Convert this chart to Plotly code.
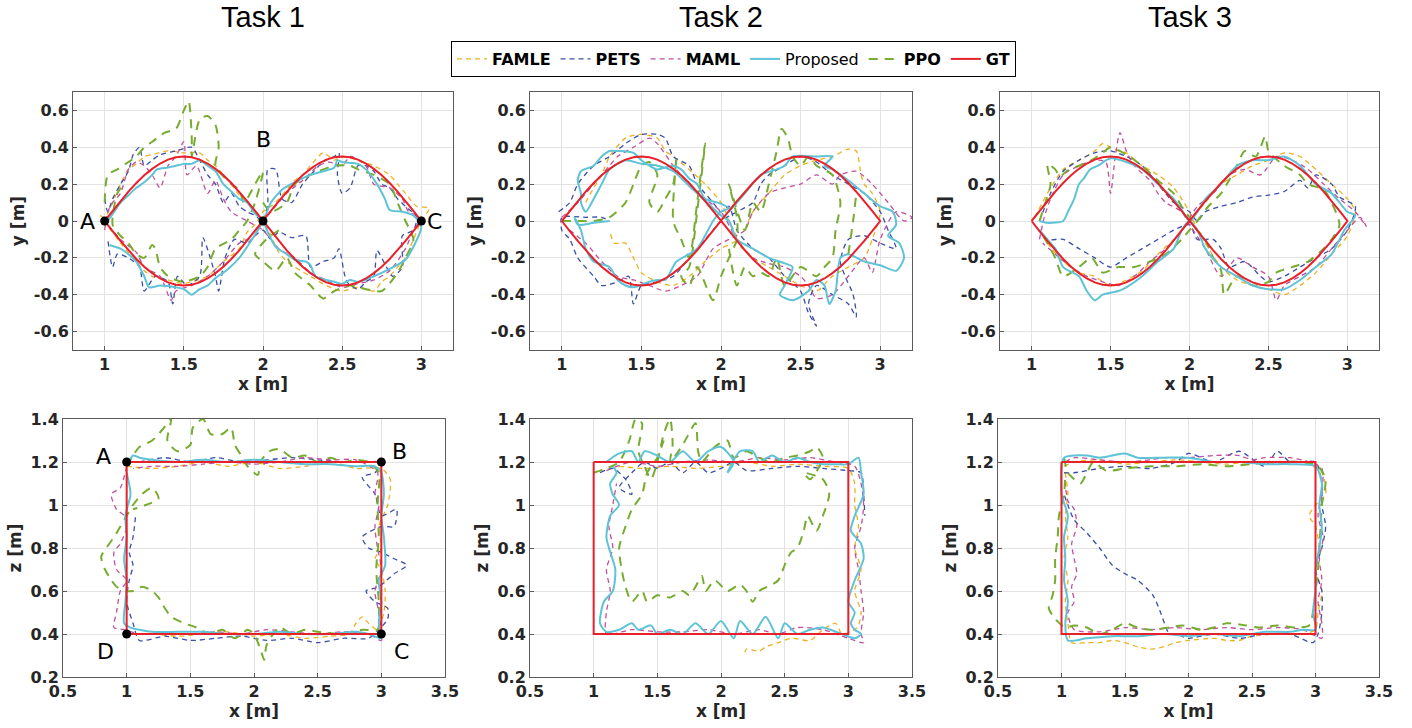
import plotly.graph_objects as go

# ---------------- ground truth ----------------
GT8_X = [1.00, 1.05, 1.10, 1.15, 1.20, 1.25, 1.30, 1.35, 1.40, 1.45, 1.50, 1.55, 1.60, 1.65, 1.70,
         1.75, 1.80, 1.85, 1.90, 1.95, 2.00, 2.05, 2.10, 2.15, 2.20, 2.25, 2.30, 2.35, 2.40, 2.45,
         2.50, 2.55, 2.60, 2.65, 2.70, 2.75, 2.80, 2.85, 2.90, 2.95, 3.00]
GT8_UP_Y = [0, 0.055, 0.108, 0.159, 0.206, 0.248, 0.283, 0.312, 0.333, 0.346, 0.35, 0.346, 0.333,
            0.312, 0.283, 0.248, 0.206, 0.159, 0.108, 0.055, 0, -0.055, -0.108, -0.159, -0.206,
            -0.248, -0.283, -0.312, -0.333, -0.346, -0.35, -0.346, -0.333, -0.312, -0.283, -0.248,
            -0.206, -0.159, -0.108, -0.055, 0]
GT8_DN_Y = [0, -0.055, -0.108, -0.159, -0.206, -0.248, -0.283, -0.312, -0.333, -0.346, -0.35,
            -0.346, -0.333, -0.312, -0.283, -0.248, -0.206, -0.159, -0.108, -0.055, 0, 0.055,
            0.108, 0.159, 0.206, 0.248, 0.283, 0.312, 0.333, 0.346, 0.35, 0.346, 0.333, 0.312,
            0.283, 0.248, 0.206, 0.159, 0.108, 0.055, 0]
GT_RECT_X = [1, 3, 3, 1, 1]
GT_RECT_Z = [1.2, 1.2, 0.4, 0.4, 1.2]

N = (None, None)  # gap marker (pen lifted)

# ---------------- Task 1, x-y ----------------
T1_TOP_FAMLE = [(0.97,0.03),(1.0,0.02),(1.05,0.1),(1.1,0.2),(1.15,0.28),(1.2,0.31),(1.25,0.35),(1.3,0.36),(1.4,0.38),(1.5,0.37),(1.6,0.37),(1.65,0.33),(1.7,0.3),(1.75,0.25),(1.8,0.2),(1.85,0.14),(1.9,0.1),(1.95,0.05),(2.0,0.02),(2.05,-0.08),(2.1,-0.17),(2.15,-0.22),(2.2,-0.25),(2.3,-0.3),(2.4,-0.35),(2.5,-0.38),(2.6,-0.36),(2.7,-0.38),(2.75,-0.33),(2.8,-0.3),(2.85,-0.25),(2.9,-0.2),(2.95,-0.1),(3.0,0.0),(3.05,0.07),(2.97,0.08),(2.9,0.15),(2.85,0.2),(2.8,0.25),(2.7,0.3),(2.6,0.33),(2.5,0.35),(2.45,0.33),(2.38,0.37),(2.3,0.3),(2.25,0.25),(2.2,0.22),(2.1,0.12),(2.05,0.08),(2.0,0.05),(1.95,-0.02),(1.9,-0.06),(1.85,-0.15),(1.75,-0.22),(1.65,-0.3),(1.55,-0.33),(1.5,-0.34),(1.4,-0.32),(1.3,-0.3),(1.25,-0.27),(1.2,-0.22),(1.1,-0.12),(1.05,-0.06),(1.0,-0.02)]
T1_TOP_PETS = [(1.0,0.12),(1.02,0.05),(1.05,0.12),(1.1,0.2),(1.15,0.27),(1.18,0.36),(1.22,0.4),(1.25,0.3),(1.3,0.33),(1.35,0.36),(1.45,0.38),(1.55,0.4),(1.6,0.33),(1.65,0.25),(1.7,0.2),(1.75,0.1),(1.8,0.15),(1.85,0.08),(1.9,0.05),(1.95,0.03),(2.0,0.0),(2.03,0.1),(2.03,0.28),(2.08,0.28),(2.12,0.12),(2.18,0.1),(2.25,0.2),(2.3,0.25),(2.38,0.32),(2.45,0.35),(2.48,0.37),(2.47,0.25),(2.5,0.15),(2.55,0.18),(2.6,0.3),(2.65,0.3),(2.7,0.27),(2.75,0.2),(2.8,0.18),(2.85,0.12),(2.9,0.08),(2.97,0.02),(2.95,-0.05),(2.88,-0.08),(2.88,-0.25),(2.82,-0.3),(2.78,-0.25),(2.72,-0.16),(2.7,-0.3),(2.65,-0.33),(2.6,-0.37),(2.53,-0.33),(2.48,-0.15),(2.45,-0.2),(2.38,-0.22),(2.3,-0.25),(2.27,-0.08),(2.18,-0.09),(2.1,-0.06),(2.05,-0.1),(2.0,-0.05),(1.95,-0.08),(1.9,-0.12),(1.82,-0.1),(1.76,-0.2),(1.72,-0.38),(1.7,-0.3),(1.66,-0.18),(1.62,-0.09),(1.6,-0.3),(1.52,-0.35),(1.46,-0.3),(1.43,-0.45),(1.4,-0.33),(1.32,-0.3),(1.25,-0.38),(1.22,-0.25),(1.15,-0.2),(1.08,-0.18),(1.05,-0.25),(1.02,-0.1)]
T1_TOP_MAML = [(1.0,-0.05),(1.02,0.05),(1.05,0.1),(1.1,0.15),(1.15,0.28),(1.2,0.32),(1.25,0.3),(1.3,0.25),(1.35,0.18),(1.4,0.3),(1.45,0.35),(1.5,0.43),(1.52,0.25),(1.58,0.3),(1.65,0.15),(1.7,0.22),(1.75,0.12),(1.8,0.05),(1.9,0.0),(2.0,-0.05),(2.05,-0.1),(2.1,-0.15),(2.2,-0.2),(2.3,-0.28),(2.4,-0.32),(2.5,-0.36),(2.6,-0.34),(2.7,-0.32),(2.8,-0.27),(2.9,-0.15),(2.95,-0.05),(3.0,0.02),(2.92,0.05),(2.88,0.12),(2.8,0.18),(2.7,0.2),(2.65,0.3),(2.55,0.35),(2.5,0.3),(2.42,0.32),(2.35,0.3),(2.25,0.22),(2.15,0.15),(2.05,0.05),(1.98,-0.02),(1.95,-0.08),(1.85,-0.12),(1.75,-0.22),(1.65,-0.3),(1.55,-0.35),(1.45,-0.38),(1.42,-0.43),(1.35,-0.3),(1.25,-0.25),(1.2,-0.17),(1.1,-0.1),(1.02,-0.02)]
T1_TOP_PROP = [(1.02,0.0),(1.06,0.05),(1.1,0.1),(1.15,0.14),(1.2,0.18),(1.25,0.21),(1.3,0.25),(1.33,0.28),(1.4,0.29),(1.45,0.3),(1.5,0.31),(1.55,0.31),(1.6,0.33),(1.65,0.3),(1.7,0.27),(1.75,0.2),(1.8,0.16),(1.85,0.12),(1.9,0.1),(1.95,0.04),(2.0,0.0),(2.03,-0.06),(2.08,-0.14),(2.15,-0.18),(2.2,-0.21),(2.27,-0.22),(2.3,-0.24),(2.33,-0.3),(2.4,-0.32),(2.45,-0.33),(2.5,-0.34),(2.55,-0.32),(2.6,-0.33),(2.7,-0.3),(2.8,-0.26),(2.9,-0.21),(2.95,-0.14),(3.0,-0.03),(2.95,0.03),(2.88,0.05),(2.8,0.06),(2.77,0.12),(2.72,0.2),(2.65,0.28),(2.6,0.31),(2.5,0.32),(2.47,0.33),(2.45,0.29),(2.38,0.27),(2.3,0.25),(2.2,0.21),(2.12,0.17),(2.05,0.1),(2.02,0.04),(2.0,0.0),(1.96,-0.06),(1.9,-0.14),(1.85,-0.2),(1.78,-0.26),(1.7,-0.31),(1.65,-0.35),(1.6,-0.37),(1.55,-0.4),(1.5,-0.37),(1.45,-0.36),(1.35,-0.35),(1.28,-0.36),(1.25,-0.3),(1.2,-0.22),(1.15,-0.18),(1.1,-0.15),(1.03,-0.13)]
T1_TOP_PPO = [(1.0,0.1),(1.02,0.25),(1.08,0.28),(1.15,0.32),(1.2,0.35),(1.25,0.4),(1.3,0.43),(1.38,0.48),(1.45,0.5),(1.5,0.6),(1.53,0.65),(1.55,0.45),(1.55,0.35),(1.6,0.55),(1.65,0.57),(1.7,0.52),(1.72,0.4),(1.7,0.3),(1.8,0.2),(1.85,0.17),(1.88,0.1),(1.95,0.2),(2.0,0.27),(1.95,0.1),(1.9,0.0),(1.85,-0.05),(1.8,-0.1),(1.7,-0.15),(1.65,-0.25),(1.6,-0.3),(1.5,-0.33),(1.45,-0.32),(1.4,-0.3),(1.35,-0.25),(1.32,-0.15),(1.3,-0.13),(1.25,-0.2),(1.2,-0.18),(1.15,-0.12),(1.1,-0.08),(1.05,-0.02),(1.08,0.15),(1.12,0.2),N,(2.0,0.1),(2.05,0.05),(2.15,0.1),(2.2,0.2),(2.3,0.25),(2.35,0.27),(2.45,0.3),(2.55,0.3),(2.6,0.28),(2.7,0.25),(2.8,0.2),(2.85,0.1),(2.9,0.0),(2.95,-0.1),(2.9,-0.2),(2.85,-0.28),(2.75,-0.38),(2.65,-0.37),(2.55,-0.35),(2.45,-0.38),(2.38,-0.42),(2.3,-0.35),(2.2,-0.28),(2.15,-0.2),(2.08,-0.27),(2.0,-0.22),(1.95,-0.18),(2.02,-0.1),(2.1,-0.05)]

# ---------------- Task 2, x-y ----------------
T2_TOP_FAMLE = [(1.15,0.1),(1.2,0.18),(1.25,0.25),(1.3,0.35),(1.4,0.45),(1.5,0.47),(1.6,0.45),(1.65,0.38),(1.7,0.35),(1.8,0.28),(1.9,0.2),(2.0,0.1),(2.05,0.0),(2.1,-0.1),(2.0,-0.15),(1.9,-0.22),(1.8,-0.3),(1.7,-0.35),(1.6,-0.33),(1.5,-0.28),(1.45,-0.2),(1.4,-0.12),(1.33,-0.12),(1.3,-0.05),N,(2.15,-0.05),(2.2,0.05),(2.3,0.15),(2.4,0.25),(2.5,0.3),(2.6,0.33),(2.7,0.35),(2.8,0.39),(2.85,0.38),(2.88,0.25),(2.9,0.2),(2.95,0.15),(3.0,0.05),(2.95,-0.1),(2.9,-0.2),(2.8,-0.25),(2.7,-0.3),(2.6,-0.38),(2.5,-0.35),(2.4,-0.3),(2.3,-0.25),(2.2,-0.2),(2.1,-0.12)]
T2_TOP_PETS = [(0.98,0.05),(1.05,0.1),(1.1,0.2),(1.2,0.3),(1.3,0.35),(1.4,0.42),(1.5,0.47),(1.6,0.47),(1.65,0.45),(1.7,0.35),(1.8,0.3),(1.85,0.2),(1.9,0.15),(1.95,0.1),(2.0,0.05),(2.05,0.08),(2.1,-0.05),(2.2,-0.15),(2.3,-0.2),(2.4,-0.3),(2.5,-0.38),(2.55,-0.5),(2.6,-0.57),(2.55,-0.45),(2.6,-0.35),(2.7,-0.4),(2.8,-0.45),(2.85,-0.52),(2.83,-0.4),(2.78,-0.3),(2.75,-0.22),(2.8,-0.1),(2.9,-0.08),(3.0,-0.12),(3.1,-0.15),(3.05,-0.05),(3.0,0.05),(2.9,0.15),(2.8,0.2),(2.7,0.25),(2.6,0.32),(2.5,0.35),(2.4,0.3),(2.3,0.25),(2.25,0.2),(2.2,0.1),(2.1,0.05),(2.0,0.0),(1.95,-0.05),(1.9,-0.1),(1.8,-0.2),(1.7,-0.3),(1.6,-0.33),(1.5,-0.35),(1.45,-0.45),(1.42,-0.3),(1.35,-0.33),(1.25,-0.35),(1.2,-0.3),(1.1,-0.2),(1.05,-0.1),(1.0,-0.05),(1.0,0.02),(1.15,0.02),(1.25,0.02),(1.3,0.0)]
T2_TOP_MAML = [(1.0,0.02),(1.1,0.1),(1.2,0.2),(1.3,0.3),(1.35,0.35),(1.45,0.4),(1.55,0.45),(1.6,0.42),(1.7,0.3),(1.8,0.2),(1.9,0.12),(2.0,0.05),(2.1,-0.1),(2.2,-0.2),(2.3,-0.23),(2.4,-0.25),(2.5,-0.3),(2.55,-0.35),(2.6,-0.42),(2.7,-0.4),(2.8,-0.3),(2.9,-0.2),(2.95,-0.28),(3.0,-0.1),(3.1,0.05),(3.2,0.02),(3.15,0.0),(3.05,0.1),(2.95,0.2),(2.85,0.27),(2.75,0.25),(2.7,0.2),(2.6,0.25),(2.5,0.2),(2.4,0.18),(2.3,0.15),(2.2,0.05),(2.15,-0.05),(2.05,-0.1),(1.95,-0.15),(1.85,-0.3),(1.75,-0.35),(1.65,-0.38),(1.55,-0.35),(1.45,-0.32),(1.35,-0.3),(1.25,-0.22),(1.15,-0.12),(1.05,-0.05)]
T2_TOP_PROP = [(1.3,0.0),(1.2,-0.01),(1.1,-0.02),(1.08,0.02),(1.12,-0.05),(1.15,-0.15),(1.2,-0.22),(1.3,-0.25),(1.35,-0.32),(1.4,-0.35),(1.45,-0.36),(1.55,-0.33),(1.6,-0.32),(1.65,-0.32),(1.72,-0.22),(1.8,-0.18),(1.85,-0.15),(1.9,-0.08),(1.95,0.0),(2.0,0.05),(2.05,0.07),(1.98,0.1),(1.9,0.12),(1.85,0.2),(1.8,0.23),(1.75,0.28),(1.7,0.3),(1.6,0.28),(1.55,0.3),(1.5,0.33),(1.45,0.37),(1.35,0.38),(1.3,0.38),(1.25,0.35),(1.2,0.3),(1.12,0.27),(1.1,0.22),(1.12,0.15),(1.12,0.1),(1.15,0.05),(1.2,0.12),(1.25,0.2),(1.3,0.28),(1.4,0.33),(1.5,0.31),(1.6,0.3),(1.7,0.27),(1.8,0.19),(1.9,0.11),(2.0,0.03),(2.05,0.0),(2.1,-0.1),(2.2,-0.15),(2.3,-0.2),(2.4,-0.23),(2.45,-0.25),(2.4,-0.35),(2.37,-0.4),(2.45,-0.43),(2.55,-0.38),(2.6,-0.32),(2.65,-0.35),(2.68,-0.45),(2.72,-0.38),(2.75,-0.2),(2.8,-0.18),(2.9,-0.22),(3.0,-0.24),(3.1,-0.27),(3.15,-0.2),(3.12,-0.12),(3.05,-0.08),(3.1,-0.02),(3.08,0.05),(3.0,0.08),(2.9,0.15),(2.8,0.22),(2.7,0.28),(2.65,0.3),(2.7,0.35),(2.6,0.35),(2.45,0.35),(2.4,0.3),(2.35,0.28),(2.25,0.25),(2.15,0.15),(2.05,0.05)]
T2_TOP_PPO = [(1.0,0.0),(1.1,0.0),(1.2,0.0),(1.3,0.02),(1.4,0.1),(1.45,0.2),(1.5,0.3),(1.55,0.32),(1.6,0.25),(1.55,0.1),(1.6,0.05),(1.65,0.12),(1.7,0.2),(1.72,0.35),(1.7,0.0),(1.75,-0.1),(1.8,-0.2),(1.85,0.1),(1.88,0.3),(1.9,0.42),(1.85,0.05),(1.8,-0.25),(1.75,-0.3),(1.8,-0.35),(1.85,-0.25),(1.95,-0.43),(2.0,-0.3),(2.05,-0.2),(2.1,-0.1),(2.1,0.02),(2.05,0.2),(2.15,-0.05),(2.2,0.1),(2.25,0.05),(2.3,0.2),(2.35,0.38),(2.38,0.5),(2.42,0.45),(2.45,0.35),(2.5,0.3),(2.55,0.35),(2.6,0.3),(2.7,0.25),(2.75,0.1),(2.72,-0.05),(2.7,-0.2),(2.65,-0.25),(2.6,-0.3),(2.5,-0.25),(2.4,-0.35),(2.35,-0.2),(2.3,-0.3),(2.25,-0.28),(2.2,-0.3),(2.15,-0.25),(2.1,-0.35),(2.05,-0.15),N,(2.8,-0.18),(2.83,0.0),(2.85,0.15)]

# ---------------- Task 3, x-y ----------------
T3_TOP_FAMLE = [(1.02,0.02),(1.1,0.15),(1.15,0.22),(1.2,0.28),(1.3,0.33),(1.4,0.38),(1.45,0.42),(1.5,0.4),(1.55,0.38),(1.6,0.37),(1.7,0.3),(1.8,0.25),(1.9,0.18),(2.0,0.05),(2.05,-0.05),(2.1,-0.12),(2.2,-0.25),(2.3,-0.32),(2.4,-0.35),(2.5,-0.37),(2.6,-0.4),(2.7,-0.35),(2.8,-0.28),(2.9,-0.18),(3.0,-0.08),(3.05,0.05),(3.0,0.12),(2.9,0.2),(2.8,0.28),(2.7,0.35),(2.6,0.37),(2.5,0.33),(2.4,0.3),(2.3,0.25),(2.2,0.2),(2.1,0.1),(2.0,0.0),(1.9,-0.1),(1.8,-0.18),(1.7,-0.27),(1.6,-0.32),(1.5,-0.35),(1.45,-0.33),(1.4,-0.3),(1.3,-0.28),(1.2,-0.22),(1.1,-0.12),(1.05,-0.05)]
T3_TOP_PETS = [(1.05,0.0),(1.12,0.15),(1.2,0.27),(1.3,0.33),(1.4,0.37),(1.5,0.38),(1.6,0.35),(1.7,0.3),(1.8,0.2),(1.9,0.1),(2.0,0.05),(2.05,0.0),(2.1,0.05),(2.2,0.08),(2.3,0.1),(2.4,0.13),(2.5,0.14),(2.6,0.16),(2.7,0.22),(2.75,0.18),(2.8,0.25),(2.9,0.2),(2.95,0.13),(3.05,0.08),(3.0,-0.05),(2.9,-0.15),(2.8,-0.2),(2.7,-0.25),(2.6,-0.3),(2.5,-0.33),(2.45,-0.3),(2.35,-0.22),(2.25,-0.25),(2.2,-0.15),(2.15,-0.1),(2.05,-0.1),(2.0,-0.02),(1.9,-0.05),(1.8,-0.1),(1.7,-0.15),(1.6,-0.2),(1.5,-0.25),(1.4,-0.2),(1.3,-0.15),(1.2,-0.1),(1.1,-0.1),(1.05,-0.05)]
T3_TOP_MAML = [(1.05,-0.1),(1.08,0.02),(1.12,0.12),(1.2,0.25),(1.3,0.3),(1.4,0.33),(1.47,0.32),(1.5,0.15),(1.53,0.35),(1.56,0.48),(1.6,0.38),(1.65,0.3),(1.75,0.22),(1.8,0.15),(1.85,0.1),(1.95,0.05),(2.0,-0.02),(2.1,-0.15),(2.2,-0.3),(2.3,-0.2),(2.4,-0.25),(2.5,-0.3),(2.55,-0.43),(2.6,-0.35),(2.7,-0.3),(2.8,-0.25),(2.9,-0.15),(3.0,-0.05),(3.08,0.02),(3.12,-0.03),(3.05,0.05),(2.95,0.12),(2.85,0.2),(2.75,0.28),(2.65,0.33),(2.55,0.35),(2.45,0.25),(2.35,0.28),(2.25,0.25),(2.15,0.15),(2.05,0.08),(1.95,-0.05),(1.85,-0.15),(1.75,-0.22),(1.65,-0.3),(1.55,-0.35),(1.45,-0.33),(1.35,-0.3),(1.25,-0.25),(1.15,-0.18),(1.07,-0.12)]
T3_TOP_PROP = [(1.05,0.0),(1.1,-0.01),(1.2,0.0),(1.23,0.05),(1.27,0.12),(1.3,0.2),(1.33,0.23),(1.37,0.28),(1.42,0.3),(1.5,0.34),(1.6,0.32),(1.7,0.28),(1.8,0.2),(1.9,0.12),(1.95,0.06),(2.0,0.0),(2.05,0.05),(2.1,0.12),(2.2,0.2),(2.3,0.3),(2.4,0.33),(2.5,0.33),(2.6,0.35),(2.7,0.3),(2.8,0.2),(2.9,0.15),(3.0,0.05),(3.05,0.03),(2.98,-0.05),(2.9,-0.18),(2.8,-0.25),(2.7,-0.32),(2.6,-0.37),(2.5,-0.37),(2.4,-0.35),(2.3,-0.3),(2.2,-0.25),(2.1,-0.15),(2.05,-0.05),(2.0,0.0),(1.95,-0.05),(1.9,-0.15),(1.8,-0.22),(1.7,-0.3),(1.6,-0.36),(1.55,-0.38),(1.45,-0.4),(1.4,-0.43),(1.35,-0.38),(1.3,-0.3),(1.2,-0.25),(1.15,-0.15),(1.1,-0.1),(1.05,-0.05)]
T3_TOP_PPO = [(1.05,0.0),(1.08,0.08),(1.12,0.2),(1.1,0.31),(1.15,0.28),(1.18,0.24),(1.22,0.27),(1.3,0.3),(1.38,0.33),(1.45,0.37),(1.5,0.4),(1.6,0.36),(1.7,0.3),(1.8,0.22),(1.9,0.15),(1.95,0.08),(2.0,0.02),(2.05,-0.05),(2.1,-0.1),(2.15,-0.2),(2.2,-0.27),(2.22,-0.4),(2.3,-0.3),(2.4,-0.35),(2.5,-0.33),(2.55,-0.28),(2.65,-0.25),(2.75,-0.22),(2.85,-0.15),(2.9,-0.1),(2.95,-0.02),(2.9,0.1),(2.85,0.17),(2.75,0.2),(2.7,0.25),(2.6,0.3),(2.5,0.38),(2.48,0.46),(2.42,0.35),(2.35,0.38),(2.3,0.3),(2.25,0.22),(2.2,0.15),(2.12,0.08),(2.05,0.0),(2.0,-0.05),(1.95,-0.1),(1.85,-0.18),(1.75,-0.22),(1.65,-0.25),(1.55,-0.25),(1.45,-0.28),(1.38,-0.2),(1.3,-0.25),(1.2,-0.3),(1.15,-0.2),(1.1,-0.12),(1.05,-0.05)]

# ---------------- Task 1, x-z ----------------
T1_BOT_FAMLE = [(1.0,1.18),(1.2,1.17),(1.4,1.18),(1.6,1.2),(1.8,1.18),(2.0,1.2),(2.2,1.17),(2.4,1.18),(2.6,1.2),(2.8,1.17),(3.0,1.17),(3.07,1.12),(3.05,1.0),(2.98,0.9),(3.0,0.8),(2.95,0.75),(3.0,0.7),(3.03,0.6),(3.02,0.5),(2.97,0.42),(2.9,0.45),(2.85,0.48),(2.8,0.45),(2.75,0.4),(2.6,0.39),(2.4,0.38),(2.2,0.4),(2.0,0.39),(1.8,0.41),(1.6,0.4),(1.4,0.39),(1.2,0.4),(1.0,0.4)]
T1_BOT_PETS = [(1.1,1.2),(1.3,1.22),(1.5,1.2),(1.7,1.22),(1.9,1.2),(2.1,1.21),(2.3,1.22),(2.5,1.21),(2.7,1.2),(2.9,1.2),(3.0,1.2),(2.95,1.15),(2.85,1.13),(2.95,1.05),(3.0,0.95),(3.12,0.98),(3.1,0.9),(3.0,0.9),(2.85,0.85),(2.9,0.8),(3.0,0.78),(3.1,0.75),(3.2,0.72),(3.1,0.68),(2.98,0.62),(2.88,0.6),(2.95,0.55),(3.05,0.52),(3.05,0.47),(2.98,0.42),(2.9,0.38),(2.7,0.38),(2.5,0.36),(2.3,0.38),(2.1,0.37),(1.9,0.39),(1.7,0.38),(1.5,0.37),(1.3,0.39),(1.1,0.37),(1.05,0.45),(1.0,0.55),(1.02,0.65),(1.05,0.72),(1.02,0.78),(1.05,0.85),(1.07,0.95)]
T1_BOT_MAML = [(1.0,1.18),(0.95,1.08),(0.88,1.05),(0.92,0.98),(0.98,0.95),(1.0,0.9),(0.95,0.82),(0.9,0.78),(0.92,0.7),(1.0,0.65),(0.95,0.6),(0.92,0.5),(0.9,0.43),(0.98,0.42),(1.1,0.4),(1.3,0.4),(1.5,0.4),(1.7,0.41),(1.9,0.4),(2.1,0.42),(2.3,0.41),(2.5,0.4),(2.7,0.41),(2.9,0.4),(3.0,0.37),(2.98,0.5),(2.95,0.6),(3.0,0.7),(2.97,0.8),(2.95,0.9),(2.98,1.0),(2.95,1.05),(2.97,1.15),(2.8,1.21),(2.6,1.21),(2.4,1.22),(2.2,1.2),(2.0,1.19),(1.8,1.2),(1.6,1.19),(1.4,1.18),(1.2,1.18),(1.05,1.17)]
T1_BOT_PROP = [(1.0,1.18),(1.05,1.23),(1.1,1.22),(1.2,1.21),(1.4,1.2),(1.6,1.21),(1.8,1.2),(2.0,1.21),(2.2,1.2),(2.4,1.19),(2.6,1.19),(2.8,1.18),(2.95,1.18),(3.0,1.15),(3.02,1.05),(3.0,0.95),(3.02,0.85),(3.03,0.72),(2.98,0.65),(3.0,0.55),(2.98,0.45),(3.0,0.38),(2.9,0.4),(2.8,0.41),(2.6,0.4),(2.4,0.4),(2.2,0.41),(2.0,0.4),(1.8,0.4),(1.6,0.41),(1.4,0.41),(1.2,0.41),(1.03,0.43),(0.98,0.45),(0.99,0.55),(1.0,0.65),(0.98,0.75),(1.0,0.85),(0.99,0.95),(1.03,1.05),(1.0,1.15)]
T1_BOT_PPO = [(1.0,1.18),(1.05,1.23),(1.1,1.27),(1.2,1.3),(1.28,1.35),(1.35,1.4),(1.32,1.3),(1.4,1.25),(1.5,1.28),(1.52,1.36),(1.6,1.4),(1.66,1.33),(1.75,1.33),(1.82,1.36),(1.85,1.28),(1.9,1.23),(1.95,1.18),(2.03,1.14),(2.05,1.2),(2.12,1.25),(2.2,1.26),(2.3,1.22),(2.4,1.23),(2.5,1.2),(2.6,1.22),(2.7,1.2),(2.8,1.21),(2.9,1.2),(2.98,1.15),(2.97,1.0),(2.98,0.85),(2.96,0.7),(2.98,0.55),(2.97,0.42),(2.85,0.42),(2.7,0.4),(2.5,0.41),(2.4,0.42),(2.3,0.4),(2.2,0.43),(2.1,0.35),(2.08,0.28),(2.05,0.33),(2.0,0.4),(1.95,0.42),(1.85,0.38),(1.75,0.42),(1.65,0.4),(1.55,0.43),(1.45,0.45),(1.35,0.48),(1.3,0.52),(1.25,0.57),(1.2,0.6),(1.12,0.62),(1.05,0.6),(1.0,0.6),(0.92,0.62),(0.87,0.66),(0.83,0.7),(0.8,0.76),(0.84,0.8),(0.9,0.85),(0.95,0.9),(1.0,0.95),(1.05,1.0),(1.12,1.05),(1.2,1.08),(1.25,1.03),(1.15,1.0),(1.05,0.98)]

# ---------------- Task 2, x-z ----------------
T2_BOT_FAMLE = [(1.2,1.18),(1.4,1.17),(1.6,1.18),(1.8,1.17),(2.0,1.18),(2.2,1.2),(2.4,1.18),(2.6,1.19),(2.8,1.18),(3.0,1.17),(3.05,1.1),(3.05,1.0),(3.08,0.9),(3.05,0.8),(3.1,0.7),(3.05,0.6),(3.1,0.5),(3.07,0.43),(2.95,0.4),(2.9,0.45),(2.8,0.42),(2.7,0.37),(2.55,0.38),(2.45,0.36),(2.35,0.34),(2.3,0.32),(2.2,0.33),(2.18,0.3)]
T2_BOT_PETS = [(1.05,1.15),(1.15,1.17),(1.25,1.12),(1.3,1.05),(1.2,1.08),(1.3,1.15),(1.4,1.2),(1.5,1.17),(1.6,1.2),(1.7,1.15),(1.8,1.2),(1.9,1.15),(2.0,1.17),(2.1,1.2),(2.2,1.16),(2.4,1.17),(2.6,1.18),(2.8,1.17),(3.0,1.16),(3.1,1.15),(3.12,1.05),(3.13,0.95)]
T2_BOT_MAML = [(1.1,1.16),(1.3,1.2),(1.5,1.18),(1.7,1.2),(1.9,1.21),(2.1,1.2),(2.3,1.22),(2.5,1.21),(2.7,1.22),(2.9,1.2),(3.05,1.18),(3.1,1.1),(3.12,1.0),(3.1,0.9),(3.05,0.8),(3.08,0.7),(3.1,0.6),(3.12,0.5),(3.1,0.4),(3.12,0.36),(3.0,0.38),(2.8,0.42),(2.6,0.43),(2.45,0.4),(2.3,0.42),(2.1,0.4),(1.9,0.42),(1.7,0.41),(1.5,0.41),(1.3,0.42),(1.1,0.4),(1.1,0.5),(1.13,0.6),(1.1,0.7),(1.15,0.8),(1.12,0.9),(1.15,1.0),(1.18,1.1)]
T2_BOT_PROP = [(1.1,1.2),(1.2,1.24),(1.3,1.25),(1.35,1.2),(1.4,1.25),(1.5,1.23),(1.6,1.2),(1.7,1.25),(1.8,1.2),(1.9,1.25),(2.0,1.27),(2.1,1.2),(2.05,1.15),(2.15,1.25),(2.25,1.25),(2.3,1.2),(2.4,1.23),(2.5,1.2),(2.6,1.22),(2.7,1.2),(2.8,1.19),(2.9,1.19),(3.0,1.19),(3.08,1.22),(3.1,1.15),(3.12,1.05),(3.05,0.95),(3.02,0.88),(3.1,0.82),(3.12,0.75),(3.05,0.65),(3.0,0.55),(3.05,0.5),(3.02,0.45),(3.05,0.42),(3.1,0.4),(3.05,0.38),(2.95,0.4),(2.8,0.43),(2.7,0.42),(2.6,0.4),(2.5,0.45),(2.45,0.38),(2.35,0.48),(2.25,0.4),(2.15,0.46),(2.1,0.38),(2.0,0.46),(1.9,0.4),(1.8,0.45),(1.7,0.4),(1.6,0.42),(1.5,0.4),(1.45,0.44),(1.35,0.42),(1.3,0.45),(1.2,0.42),(1.1,0.41),(1.05,0.45),(1.08,0.55),(1.15,0.6),(1.17,0.7),(1.12,0.8),(1.1,0.85),(1.13,0.95),(1.2,1.0),(1.15,1.05),(1.13,1.1),(1.18,1.15),(1.15,1.18)]
T2_BOT_PPO = [(1.0,1.15),(1.1,1.17),(1.2,1.2),(1.28,1.3),(1.33,1.4),(1.38,1.38),(1.35,1.25),(1.4,1.18),(1.45,1.12),(1.5,1.2),(1.55,1.33),(1.6,1.4),(1.62,1.28),(1.6,1.2),(1.7,1.28),(1.8,1.38),(1.82,1.25),(1.85,1.2),(1.95,1.27),(2.05,1.3),(2.1,1.22),(2.2,1.25),(2.3,1.22),(2.4,1.2),(2.5,1.22),(2.6,1.23),(2.7,1.25),(2.75,1.27),(2.8,1.22),(2.7,1.12),(2.65,1.15),(2.8,1.12),(2.85,1.05),(2.8,0.95),(2.75,0.88),(2.68,0.95),(2.65,0.88),(2.6,0.8),(2.55,0.78),(2.5,0.72),(2.45,0.65),(2.4,0.63),(2.3,0.6),(2.25,0.55),(2.2,0.6),(2.15,0.63),(2.05,0.6),(1.95,0.65),(1.88,0.6),(1.85,0.67),(1.8,0.62),(1.75,0.58),(1.7,0.6),(1.6,0.57),(1.5,0.58),(1.42,0.55),(1.38,0.6),(1.3,0.55),(1.25,0.62),(1.22,0.7),(1.2,0.8),(1.25,0.9),(1.3,0.98),(1.38,1.05),(1.42,1.15),(1.5,1.22),(1.55,1.3)]

# ---------------- Task 3, x-z ----------------
T3_BOT_FAMLE = [(1.02,1.18),(1.1,1.2),(1.3,1.21),(1.5,1.19),(1.7,1.2),(1.9,1.21),(2.1,1.2),(2.3,1.19),(2.5,1.2),(2.7,1.19),(2.9,1.2),(3.05,1.15),(3.08,1.05),(3.0,1.0),(2.95,0.95),(3.0,0.9),(3.03,0.8),(3.0,0.7),(3.05,0.6),(3.02,0.5),(3.0,0.42),(2.9,0.4),(2.7,0.4),(2.5,0.39),(2.4,0.37),(2.3,0.37),(2.2,0.38),(2.0,0.37),(1.9,0.36),(1.8,0.34),(1.7,0.33),(1.6,0.34),(1.5,0.36),(1.4,0.37),(1.3,0.36),(1.2,0.36),(1.08,0.36),(1.05,0.45),(1.03,0.55),(1.05,0.65),(1.02,0.75),(1.05,0.85),(1.03,0.95),(1.05,1.05),(1.03,1.15)]
T3_BOT_PETS = [(1.02,1.15),(1.1,1.15),(1.3,1.17),(1.5,1.18),(1.7,1.17),(1.9,1.2),(2.0,1.24),(2.2,1.2),(2.4,1.25),(2.6,1.18),(2.7,1.25),(2.8,1.2),(3.0,1.2),(3.05,1.1),(3.05,1.0),(3.08,0.9),(3.05,0.8),(3.0,0.7),(3.05,0.6),(3.05,0.5),(3.02,0.4),(2.98,0.36),(2.8,0.4),(2.6,0.4),(2.4,0.38),(2.2,0.4),(2.0,0.38),(1.9,0.4),(1.85,0.4),(1.78,0.5),(1.72,0.58),(1.6,0.65),(1.5,0.68),(1.4,0.72),(1.3,0.8),(1.2,0.87),(1.1,0.93),(1.05,1.0),(1.02,1.05)]
T3_BOT_MAML = [(1.03,1.2),(1.1,1.22),(1.3,1.21),(1.5,1.2),(1.7,1.21),(1.8,1.22),(2.0,1.22),(2.2,1.23),(2.4,1.23),(2.5,1.21),(2.6,1.22),(2.8,1.22),(2.95,1.2),(3.05,1.17),(3.05,1.05),(3.02,0.95),(3.06,0.85),(3.03,0.75),(3.05,0.65),(3.02,0.55),(3.05,0.45),(3.05,0.38),(2.9,0.42),(2.7,0.43),(2.5,0.42),(2.3,0.43),(2.1,0.42),(1.9,0.43),(1.7,0.42),(1.5,0.43),(1.3,0.41),(1.1,0.42),(1.05,0.5),(1.1,0.55),(1.08,0.62),(1.12,0.68),(1.1,0.75),(1.08,0.82),(1.12,0.9),(1.1,0.98),(1.05,1.02),(1.03,1.1)]
T3_BOT_PROP = [(1.0,1.18),(1.02,1.22),(1.1,1.23),(1.2,1.23),(1.3,1.22),(1.4,1.23),(1.5,1.24),(1.6,1.22),(1.8,1.22),(2.0,1.22),(2.2,1.2),(2.4,1.2),(2.6,1.19),(2.8,1.19),(3.0,1.18),(3.05,1.1),(3.03,1.0),(3.05,0.9),(3.03,0.8),(3.0,0.7),(3.0,0.6),(2.98,0.5),(3.0,0.42),(2.9,0.42),(2.8,0.41),(2.6,0.41),(2.4,0.39),(2.2,0.4),(2.0,0.39),(1.8,0.4),(1.6,0.39),(1.4,0.39),(1.2,0.38),(1.05,0.37),(1.03,0.45),(1.05,0.55),(1.02,0.65),(1.03,0.75),(1.02,0.85),(1.05,0.95),(1.0,1.05),(1.0,1.18)]
T3_BOT_PPO = [(1.02,1.22),(1.05,1.15),(1.1,1.12),(1.15,1.1),(1.2,1.15),(1.25,1.2),(1.35,1.16),(1.5,1.17),(1.7,1.18),(1.9,1.18),(2.1,1.19),(2.3,1.18),(2.5,1.19),(2.7,1.2),(2.9,1.2),(3.02,1.18),(3.08,1.12),(3.05,1.0),(3.04,0.9),(3.03,0.8),(3.02,0.7),(3.0,0.6),(2.98,0.5),(2.95,0.44),(2.85,0.43),(2.7,0.44),(2.55,0.43),(2.45,0.44),(2.3,0.45),(2.2,0.43),(2.1,0.42),(1.95,0.44),(1.85,0.43),(1.7,0.42),(1.6,0.43),(1.5,0.45),(1.4,0.42),(1.3,0.4),(1.2,0.43),(1.1,0.44),(1.03,0.43),(0.95,0.47),(0.9,0.52),(0.93,0.58),(0.95,0.65),(0.95,0.75),(0.97,0.85),(0.98,0.95),(1.02,1.05),(1.03,1.15)]

# ---------------- labelled points ----------------
T1_TOP_PTS_X = [1, 2, 3]
T1_TOP_PTS_Y = [0, 0, 0]
T1_BOT_PTS_X = [1, 3, 3, 1]
T1_BOT_PTS_Z = [1.2, 1.2, 0.4, 0.4]

TASK_TITLES = ["Task 1", "Task 2", "Task 3"]
SERIES_NAMES = ["FAMLE", "PETS", "MAML", "Proposed", "PPO", "GT"]
Y_TICKS = [-0.6, -0.4, -0.2, 0, 0.2, 0.4, 0.6]
Y_TICKTEXT = ["-0.6", "-0.4", "-0.2", "0", "0.2", "0.4", "0.6"]
X8_TICKS = [1, 1.5, 2, 2.5, 3]
X8_TICKTEXT = ["1", "1.5", "2", "2.5", "3"]
Z_TICKS = [0.2, 0.4, 0.6, 0.8, 1.0, 1.2, 1.4]
Z_TICKTEXT = ["0.2", "0.4", "0.6", "0.8", "1", "1.2", "1.4"]
XR_TICKS = [0.5, 1, 1.5, 2, 2.5, 3, 3.5]
XR_TICKTEXT = ["0.5", "1", "1.5", "2", "2.5", "3", "3.5"]

COLORS = {"FAMLE": "#EDB120", "PETS": "#3A4FA5", "MAML": "#C0509E",
          "Proposed": "#5EC3D6", "PPO": "#77AC30", "GT": "#E8202A"}

panels = [
    ({"FAMLE": T1_TOP_FAMLE, "PETS": T1_TOP_PETS, "MAML": T1_TOP_MAML, "Proposed": T1_TOP_PROP, "PPO": T1_TOP_PPO}, True),
    ({"FAMLE": T2_TOP_FAMLE, "PETS": T2_TOP_PETS, "MAML": T2_TOP_MAML, "Proposed": T2_TOP_PROP, "PPO": T2_TOP_PPO}, True),
    ({"FAMLE": T3_TOP_FAMLE, "PETS": T3_TOP_PETS, "MAML": T3_TOP_MAML, "Proposed": T3_TOP_PROP, "PPO": T3_TOP_PPO}, True),
    ({"FAMLE": T1_BOT_FAMLE, "PETS": T1_BOT_PETS, "MAML": T1_BOT_MAML, "Proposed": T1_BOT_PROP, "PPO": T1_BOT_PPO}, False),
    ({"FAMLE": T2_BOT_FAMLE, "PETS": T2_BOT_PETS, "MAML": T2_BOT_MAML, "Proposed": T2_BOT_PROP, "PPO": T2_BOT_PPO}, False),
    ({"FAMLE": T3_BOT_FAMLE, "PETS": T3_BOT_PETS, "MAML": T3_BOT_MAML, "Proposed": T3_BOT_PROP, "PPO": T3_BOT_PPO}, False),
]

W, H = 1412, 728
BOXES = [(73, 453, 92, 350), (530, 912, 92, 350), (1000, 1379, 92, 350),
         (63, 445, 419, 677), (530, 912, 419, 677), (998, 1379, 419, 677)]

LINE_STYLE = {
    "FAMLE": dict(width=1.3, dash="5px,4px"),
    "PETS": dict(width=1.3, dash="5px,4px"),
    "MAML": dict(width=1.3, dash="5px,4px"),
    "Proposed": dict(width=2, dash="solid"),
    "PPO": dict(width=2, dash="9px,7px"),
    "GT": dict(width=2, dash="solid"),
}
LEGEND_LABEL = {"FAMLE": "<b>FAMLE</b>", "PETS": "<b>PETS</b>", "MAML": "<b>MAML</b>",
                "Proposed": "Proposed", "PPO": "<b>PPO</b>", "GT": "<b>GT</b>"}

fig = go.Figure()
for i, (data, is_top) in enumerate(panels):
    ax = "" if i == 0 else str(i + 1)
    for name in ["FAMLE", "PETS", "MAML", "PPO", "Proposed"]:
        pts = data[name]
        fig.add_trace(go.Scatter(
            x=[p[0] for p in pts], y=[p[1] for p in pts], mode="lines", connectgaps=False,
            line=dict(color=COLORS[name], shape="spline", smoothing=0.7, **LINE_STYLE[name]),
            name=LEGEND_LABEL[name], legendgroup=name, showlegend=(i == 0),
            legendrank=SERIES_NAMES.index(name) + 1,
            xaxis="x" + ax, yaxis="y" + ax, hoverinfo="skip"))
    if is_top:
        gx = GT8_X + GT8_X[::-1]
        gy = GT8_UP_Y + GT8_DN_Y[::-1]
    else:
        gx, gy = GT_RECT_X, GT_RECT_Z
    fig.add_trace(go.Scatter(
        x=gx, y=gy, mode="lines", line=dict(color=COLORS["GT"], **LINE_STYLE["GT"]),
        name=LEGEND_LABEL["GT"], legendgroup="GT", showlegend=(i == 0), legendrank=6,
        xaxis="x" + ax, yaxis="y" + ax, hoverinfo="skip"))

fig.add_trace(go.Scatter(x=T1_TOP_PTS_X, y=T1_TOP_PTS_Y, mode="markers",
                         marker=dict(color="black", size=9), showlegend=False,
                         xaxis="x", yaxis="y", hoverinfo="skip"))
fig.add_trace(go.Scatter(x=T1_BOT_PTS_X, y=T1_BOT_PTS_Z, mode="markers",
                         marker=dict(color="black", size=9), showlegend=False,
                         xaxis="x4", yaxis="y4", hoverinfo="skip"))

TICKFONT = dict(family="DejaVu Sans", size=16, color="#262626", weight="bold")
TITLEFONT = dict(family="DejaVu Sans", size=17, color="#262626", weight="bold")

layout = dict(
    width=W, height=H, margin=dict(l=0, r=0, t=0, b=0, autoexpand=False),
    paper_bgcolor="white", plot_bgcolor="white",
    legend=dict(orientation="h", x=0.5195, y=1 - 59 / H, xanchor="center", yanchor="middle",
                bgcolor="white", bordercolor="black", borderwidth=1,
                font=dict(family="DejaVu Sans", size=16, color="black"),
                itemwidth=30, tracegroupgap=0, traceorder="normal"),
)
for i, (data, is_top) in enumerate(panels):
    l, r, t, b = BOXES[i]
    ax = "" if i == 0 else str(i + 1)
    common = dict(showline=True, mirror=True, linecolor="#5a5a5a", linewidth=1,
                  showgrid=True, gridcolor="#e3e3e3", gridwidth=1, zeroline=False,
                  ticks="inside", ticklen=4, tickcolor="#5a5a5a", tickfont=TICKFONT,
                  automargin=False)
    if is_top:
        xa = dict(range=[0.8, 3.2], tickvals=X8_TICKS, ticktext=X8_TICKTEXT)
        ya = dict(range=[-0.7, 0.7], tickvals=Y_TICKS, ticktext=Y_TICKTEXT)
        ytitle = "y [m]"
    else:
        xa = dict(range=[0.5, 3.5], tickvals=XR_TICKS, ticktext=XR_TICKTEXT)
        ya = dict(range=[0.2, 1.4], tickvals=Z_TICKS, ticktext=Z_TICKTEXT)
        ytitle = "z [m]"
    layout["xaxis" + ax] = dict(domain=[l / W, r / W], anchor="y" + ax,
                                title=dict(text="x [m]", font=TITLEFONT, standoff=4), **xa, **common)
    layout["yaxis" + ax] = dict(domain=[1 - b / H, 1 - t / H], anchor="x" + ax,
                                title=dict(text=ytitle, font=TITLEFONT, standoff=4), **ya, **common)

fig.update_layout(**layout)

for i, txt in enumerate(TASK_TITLES):
    l, r, t, b = BOXES[i]
    fig.add_annotation(x=(l + r) / 2 / W, y=1 - 17 / H, xref="paper", yref="paper",
                       text=txt, showarrow=False, xanchor="center", yanchor="middle",
                       font=dict(family="Liberation Sans", size=29, color="black"))

LBL_FONT = dict(family="DejaVu Sans", size=22, color="black")
for txt, x, y in [("A", 0.89, 0.0), ("B", 2.0, 0.44), ("C", 3.085, 0.0)]:
    fig.add_annotation(x=x, y=y, xref="x", yref="y", text=txt, showarrow=False, font=LBL_FONT)
for txt, x, y in [("A", 0.82, 1.225), ("B", 3.14, 1.25), ("C", 3.16, 0.32), ("D", 0.83, 0.32)]:
    fig.add_annotation(x=x, y=y, xref="x4", yref="y4", text=txt, showarrow=False, font=LBL_FONT)

fig.write_html("out.html")
